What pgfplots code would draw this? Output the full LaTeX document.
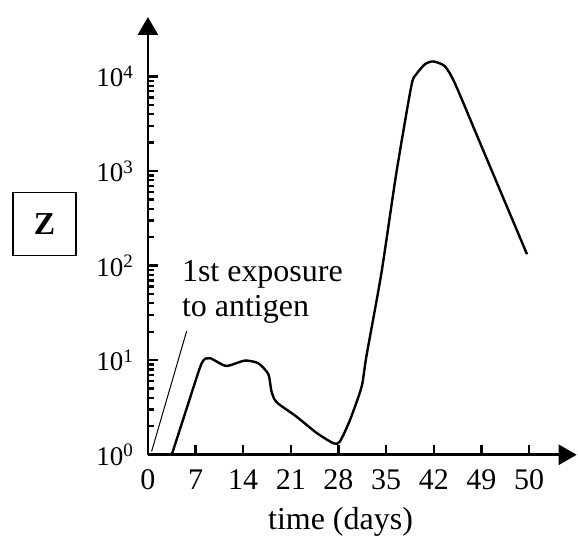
\documentclass[border=0pt]{standalone}
\usepackage{fontspec}
\setmainfont{Liberation Serif}
\usepackage{pgfplots}
\pgfplotsset{compat=1.18}
\usetikzlibrary{arrows.meta}

\newcommand\pw[1]{{\fontsize{13.5}{15}\selectfont 10}\raisebox{4.2pt}{\fontsize{9.5}{10}\selectfont #1}}

\begin{document}
\begin{tikzpicture}[font=\fontsize{15}{18}\selectfont]
\begin{axis}[
  scale only axis,
  width=214.5pt, height=219pt,
  xmin=0, xmax=63,
  ymode=log, ymin=1, ymax=42658,
  axis lines=left,
  axis line style={line width=1.3pt, -{Triangle[length=9pt,width=10pt]}},
  xtick={0,7,...,56},
  xticklabels={0,7,14,21,28,35,42,49,50},
  ytick={1,10,100,1000,10000},
  yticklabels={\pw{0},\pw{1},\pw{2},\pw{3},\pw{4}},
  xticklabel style={yshift=-4pt},
  yticklabel style={xshift=-4pt},
  minor ytick={},
  tick align=inside,
  major tick length=5pt,
  tick style={line width=1.2pt, black},
  clip=false,
]
\addplot[black, line width=1.2pt, smooth, tension=0.4] coordinates {
  (3.5,1) (5.7,3.1) (7.9,9.3) (9.1,10.5) (11.5,8.7) (14.2,9.9) (16.2,9.3)
  (17.7,7.1) (18.15,4.7) (18.9,3.6) (21.8,2.54) (24.8,1.70) (27.3,1.32)
  (28.2,1.38) (29.7,2.34) (31.4,5.25) (32.1,11.0) (34.3,83) (36.5,955)
  (38.7,7940) (39.4,10500) (40.7,13500) (41.9,14450) (43.6,12900)
  (45.1,8500) (49.2,1700) (55.7,132)
};
\draw[line width=0.5pt] (axis cs:0.54,1.084) -- (axis cs:5.7,20.4);
\node[anchor=base west, inner sep=0pt, font=\fontsize{16}{18}\selectfont] at (axis cs:4.95,68.2) {1st exposure};
\node[anchor=base west, inner sep=0pt, font=\fontsize{16}{18}\selectfont] at (axis cs:4.95,29.0) {to antigen};
\node[anchor=base, inner sep=0pt, yshift=-37.5pt, font=\fontsize{16}{18}\selectfont] at (axis cs:28.3,1) {time (days)};
\node[draw, line width=0.6pt, minimum size=31.5pt, inner sep=0pt,
  font=\fontsize{16}{18}\selectfont\bfseries] at (axis cs:-15.2,277) {Z};
\end{axis}
\path (-74pt,-42.5pt) rectangle (215pt,227.5pt);
\end{tikzpicture}
\end{document}
